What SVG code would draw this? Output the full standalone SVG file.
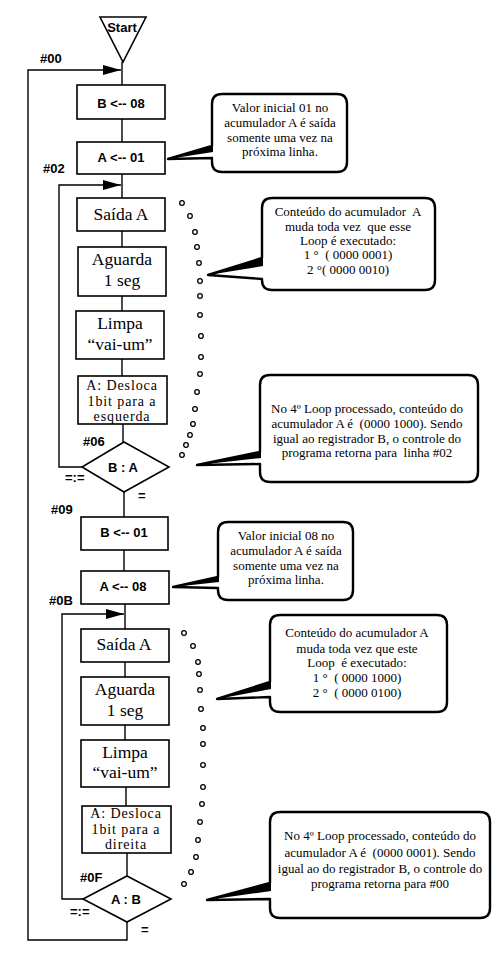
<svg xmlns="http://www.w3.org/2000/svg" width="500" height="972" viewBox="0 0 500 972">
<defs>
<style>
.box{fill:#fff;stroke:#000;stroke-width:1.6}
.ln{fill:none;stroke:#000;stroke-width:1.4}
.lbl{font-family:"Liberation Sans",Arial,sans-serif;font-weight:bold;font-size:13px;fill:#000}
.bl{font-family:"Liberation Sans",Arial,sans-serif;font-weight:bold;font-size:13px;fill:#000;text-anchor:middle}
.bt{font-family:"Liberation Serif","Times New Roman",serif;font-size:17.5px;fill:#000;text-anchor:middle}
.bs{font-family:"Liberation Serif","Times New Roman",serif;font-size:14px;letter-spacing:0.9px;fill:#000;text-anchor:middle}
.nt{font-family:"Liberation Serif","Times New Roman",serif;font-size:13px;fill:#000;text-anchor:middle;white-space:pre}
.bub{fill:#fff;stroke:#000;stroke-width:2.4;stroke-linejoin:round}
.dot{fill:#fff;stroke:#000;stroke-width:1.3}
</style>
<marker id="ah" markerWidth="18" markerHeight="10" refX="18" refY="5" orient="auto" markerUnits="userSpaceOnUse"><path d="M0,0 L18,5 L0,10 Z" fill="#000"/></marker>
</defs>
<rect width="500" height="972" fill="#fff"/>

<g id="connectors">
<path class="ln" d="M122,62 V85"/>
<path class="ln" d="M122,119 V142"/>
<path class="ln" d="M122,174 V198"/>
<path class="ln" d="M122,231 V247"/>
<path class="ln" d="M122,296 V311"/>
<path class="ln" d="M122,359 V376"/>
<path class="ln" d="M123,424 V442"/>
<path class="ln" d="M124,492 V517"/>
<path class="ln" d="M124,550 V571"/>
<path class="ln" d="M125,604 V629"/>
<path class="ln" d="M125,662 V677"/>
<path class="ln" d="M125,725 V740"/>
<path class="ln" d="M126,787 V806"/>
<path class="ln" d="M127,853 V876"/>
<path class="ln" d="M82,467 H59 V185 H121" marker-end="url(#ah)"/>
<path class="ln" d="M83,899 H62 V614 H124" marker-end="url(#ah)"/>
<path class="ln" d="M127,922 V940 H28 V70 H121" marker-end="url(#ah)"/>
</g>

<g id="start">
<path d="M100,17 L146,17 L123,62 Z" fill="#fff" stroke="#000" stroke-width="1.6"/>
<text class="bl" x="122" y="32" font-size="13.5">Start</text>
</g>

<g id="labels">
<text class="lbl" x="40" y="63">#00</text>
<text class="lbl" x="43" y="173">#02</text>
<text class="lbl" x="83" y="446">#06</text>
<text class="lbl" x="65" y="482" font-size="12">=:=</text>
<text class="lbl" x="138" y="500" font-size="12">=</text>
<text class="lbl" x="51" y="514">#09</text>
<text class="lbl" x="49" y="605">#0B</text>
<text class="lbl" x="80" y="882">#0F</text>
<text class="lbl" x="70" y="916" font-size="12">=:=</text>
<text class="lbl" x="141" y="934" font-size="12">=</text>
</g>

<g id="n-b08"><rect class="box" x="77" y="85" width="88" height="34"/><text class="bl" x="121" y="108">B &lt;-- 08</text></g>
<g id="n-a01"><rect class="box" x="77" y="142" width="88" height="32"/><text class="bl" x="121" y="162">A &lt;-- 01</text></g>
<g id="n-saida1"><rect class="box" x="77" y="198" width="88" height="33"/><text class="bt" x="121" y="220">Saída A</text></g>
<g id="n-aguarda1"><rect class="box" x="78" y="247" width="88" height="49"/><text class="bt" x="122" y="265">Aguarda</text><text class="bt" x="122" y="286">1 seg</text></g>
<g id="n-limpa1"><rect class="box" x="76" y="311" width="88" height="48"/><text class="bt" x="120" y="329">Limpa</text><text class="bt" x="120" y="350">“vai-um”</text></g>
<g id="n-desloca1"><rect class="box" x="78" y="376" width="89" height="48"/><text class="bs" x="122" y="390">A: Desloca</text><text class="bs" x="122" y="406">1bit para a</text><text class="bs" x="122" y="421">esquerda</text></g>
<g id="n-dec1"><path d="M124,442 L169,467 L124,492 L82,467 Z" fill="#fff" stroke="#000" stroke-width="1.6"/><text class="bl" x="123" y="472">B : A</text></g>

<g id="n-b01"><rect class="box" x="81" y="517" width="87" height="33"/><text class="bl" x="124" y="537">B &lt;-- 01</text></g>
<g id="n-a08"><rect class="box" x="81" y="571" width="88" height="33"/><text class="bl" x="123" y="591">A &lt;-- 08</text></g>
<g id="n-saida2"><rect class="box" x="81" y="629" width="88" height="33"/><text class="bt" x="124" y="650">Saída A</text></g>
<g id="n-aguarda2"><rect class="box" x="81" y="677" width="88" height="48"/><text class="bt" x="125" y="695">Aguarda</text><text class="bt" x="125" y="716">1 seg</text></g>
<g id="n-limpa2"><rect class="box" x="81" y="740" width="88" height="47"/><text class="bt" x="125" y="758">Limpa</text><text class="bt" x="125" y="778">“vai-um”</text></g>
<g id="n-desloca2"><rect class="box" x="82" y="806" width="89" height="47"/><text class="bs" x="126" y="818">A: Desloca</text><text class="bs" x="126" y="834">1bit para a</text><text class="bs" x="126" y="849">direita</text></g>
<g id="n-dec2"><path d="M127,876 L171,899 L127,922 L83,899 Z" fill="#fff" stroke="#000" stroke-width="1.6"/><text class="bl" x="126" y="904">A : B</text></g>

<g id="note1">
<path class="bub" d="M222,94 H337 Q347,94 347,104 V162 Q347,172 337,172 H222 Q212,172 212,162 V158 L168,159 L212,146 V104 Q212,94 222,94 Z"/>
<path d="M168,159 L213,146 L213,152 Z" fill="#000"/>
<text class="nt" x="280" y="112">Valor inicial 01 no</text>
<text class="nt" x="280" y="127">acumulador A é saída</text>
<text class="nt" x="280" y="142">somente uma vez na</text>
<text class="nt" x="280" y="156">próxima linha.</text>
</g>

<g id="note2">
<path class="bub" d="M272,198 H425 Q435,198 435,208 V280 Q435,290 425,290 H272 Q262,290 262,280 V279 L208,275 L262,258 V208 Q262,198 272,198 Z"/>
<path d="M208,275 L263,258 L263,266 Z" fill="#000"/>
<text class="nt" x="348" y="216">Conteúdo do acumulador  A</text>
<text class="nt" x="348" y="231">muda toda vez  que esse</text>
<text class="nt" x="348" y="245">Loop é executado:</text>
<text class="nt" x="348" y="259">1 °  ( 0000 0001)</text>
<text class="nt" x="348" y="274">2 °( 0000 0010)</text>
</g>

<g id="note3">
<path class="bub" d="M270,375 H468 Q478,375 478,385 V472 Q478,482 468,482 H270 Q260,482 260,472 V464 L197,465 L260,452 V385 Q260,375 270,375 Z"/>
<path d="M197,465 L261,452 L261,458 Z" fill="#000"/>
<text class="nt" x="367" y="413">No 4º Loop processado, conteúdo do</text>
<text class="nt" x="367" y="428">acumulador A é  (0000 1000). Sendo</text>
<text class="nt" x="367" y="443">igual ao registrador B, o controle do</text>
<text class="nt" x="367" y="457">programa retorna para  linha #02</text>
</g>

<g id="note4">
<path class="bub" d="M228,522 H343 Q353,522 353,532 V590 Q353,600 343,600 H228 Q218,600 218,590 V588 L173,587 L218,577 V532 Q218,522 228,522 Z"/>
<path d="M173,587 L219,577 L219,582 Z" fill="#000"/>
<text class="nt" x="286" y="540">Valor inicial 08 no</text>
<text class="nt" x="286" y="555">acumulador A é saída</text>
<text class="nt" x="286" y="570">somente uma vez na</text>
<text class="nt" x="286" y="584">próxima linha.</text>
</g>

<g id="note5">
<path class="bub" d="M280,615 H437 Q447,615 447,625 V702 Q447,712 437,712 H280 Q270,712 270,702 V697 L217,699 L270,682 V625 Q270,615 280,615 Z"/>
<path d="M217,699 L271,682 L271,689 Z" fill="#000"/>
<text class="nt" x="357" y="637">Conteúdo do acumulador A</text>
<text class="nt" x="357" y="653">muda toda vez que este</text>
<text class="nt" x="357" y="667">Loop  é executado:</text>
<text class="nt" x="357" y="682">1 °  ( 0000 1000)</text>
<text class="nt" x="357" y="697">2 °  ( 0000 0100)</text>
</g>

<g id="note6">
<path class="bub" d="M280,812 H480 Q490,812 490,822 V908 Q490,918 480,918 H280 Q270,918 270,908 V899 L207,900 L270,883 V822 Q270,812 280,812 Z"/>
<path d="M207,900 L271,883 L271,891 Z" fill="#000"/>
<text class="nt" x="380" y="840">No 4º Loop processado, conteúdo do</text>
<text class="nt" x="380" y="857">acumulador A é  (0000 0001). Sendo</text>
<text class="nt" x="380" y="873">igual ao do registrador B, o controle do</text>
<text class="nt" x="380" y="888">programa retorna para #00</text>
</g>

<g id="dots1">
<circle class="dot" cx="182" cy="203" r="2.3"/>
<circle class="dot" cx="190" cy="216" r="2.3"/>
<circle class="dot" cx="195" cy="232" r="2.3"/>
<circle class="dot" cx="197" cy="247" r="2.3"/>
<circle class="dot" cx="199" cy="263" r="2.3"/>
<circle class="dot" cx="200" cy="281" r="2.3"/>
<circle class="dot" cx="200" cy="296" r="2.3"/>
<circle class="dot" cx="200" cy="315" r="2.3"/>
<circle class="dot" cx="201" cy="336" r="2.3"/>
<circle class="dot" cx="201" cy="357" r="2.3"/>
<circle class="dot" cx="200" cy="374" r="2.3"/>
<circle class="dot" cx="197" cy="392" r="2.3"/>
<circle class="dot" cx="195" cy="409" r="2.3"/>
<circle class="dot" cx="193" cy="424" r="2.3"/>
<circle class="dot" cx="190" cy="435" r="2.3"/>
<circle class="dot" cx="186" cy="445" r="2.3"/>
<circle class="dot" cx="182" cy="455" r="2.3"/>
</g>
<g id="dots2">
<circle class="dot" cx="184" cy="633" r="2.3"/>
<circle class="dot" cx="193" cy="646" r="2.3"/>
<circle class="dot" cx="198" cy="662" r="2.3"/>
<circle class="dot" cx="199" cy="674" r="2.3"/>
<circle class="dot" cx="200" cy="690" r="2.3"/>
<circle class="dot" cx="201" cy="709" r="2.3"/>
<circle class="dot" cx="203" cy="728" r="2.3"/>
<circle class="dot" cx="203" cy="744" r="2.3"/>
<circle class="dot" cx="203" cy="765" r="2.3"/>
<circle class="dot" cx="203" cy="787" r="2.3"/>
<circle class="dot" cx="202" cy="804" r="2.3"/>
<circle class="dot" cx="200" cy="822" r="2.3"/>
<circle class="dot" cx="198" cy="840" r="2.3"/>
<circle class="dot" cx="196" cy="857" r="2.3"/>
<circle class="dot" cx="191" cy="872" r="2.3"/>
<circle class="dot" cx="184" cy="884" r="2.3"/>
</g>
</svg>
